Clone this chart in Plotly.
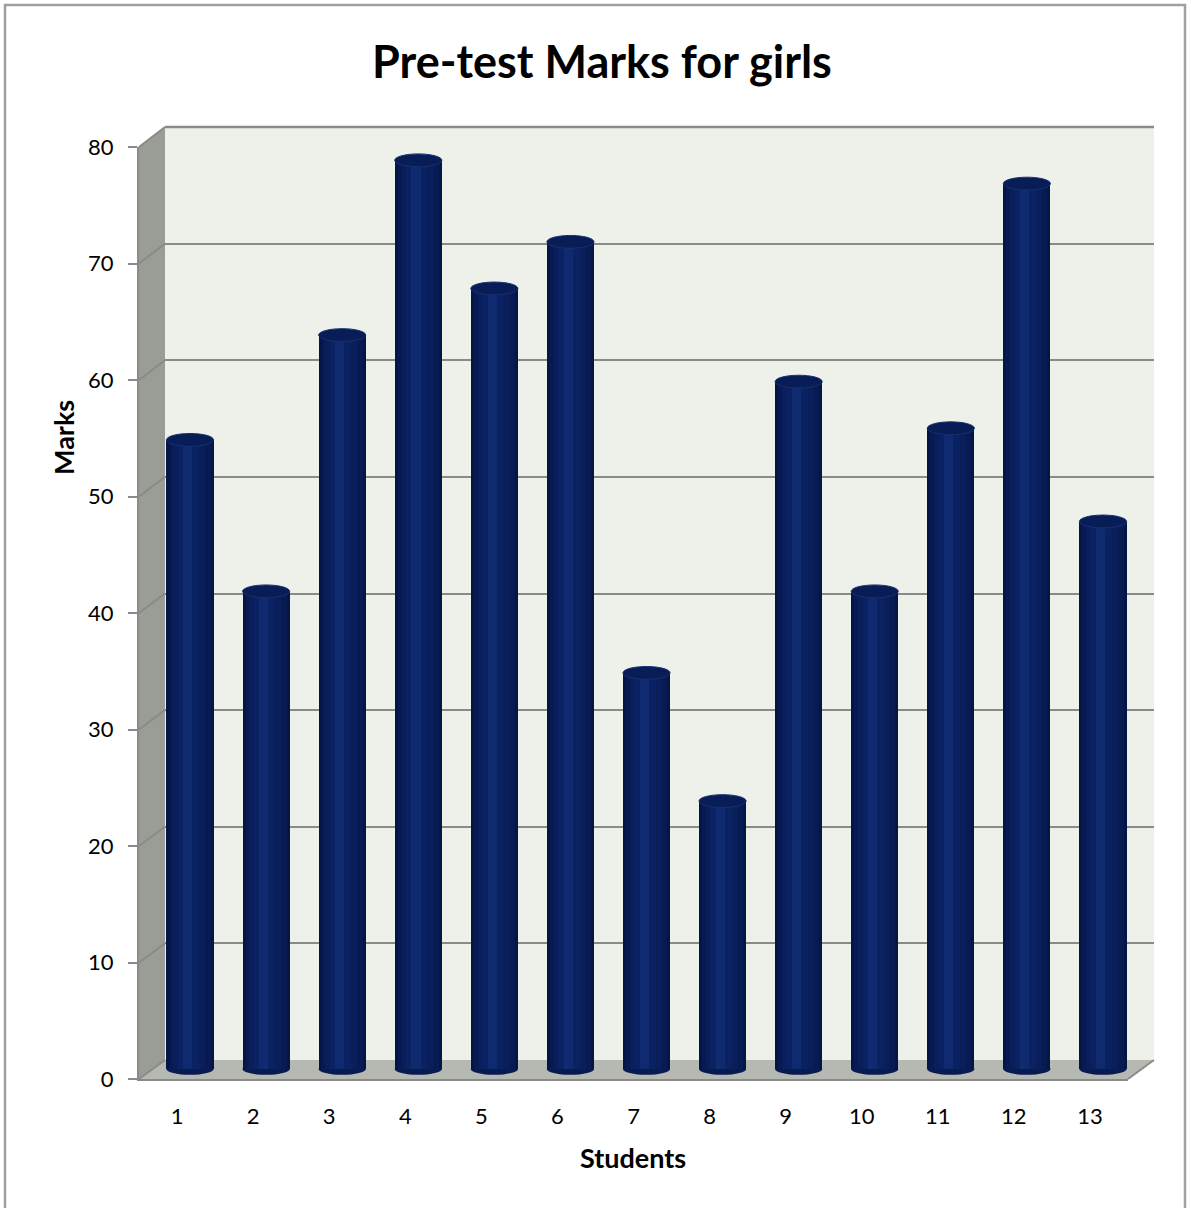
import plotly.graph_objects as go

# Pre-test marks for girls, one value per student
students = list(range(1, 14))
marks = [54, 41, 63, 78, 67, 71, 34, 23, 59, 41, 55, 76, 47]
y_ticks = [0, 10, 20, 30, 40, 50, 60, 70, 80]

W, H = 1191, 1208
FONT = "Lato"


def fx(px):
    return px / W


def fy(py):
    return 1 - py / H


# 3D box geometry (pixels): front plane, mid plane (bars), back wall
FRONT_L, FRONT_R, FRONT_B, FRONT_T = 139, 1128, 1079, 147
BACK_L, BACK_R, BACK_B, BACK_T = 165, 1154, 1060, 127
DX, DY = 13, -10  # front -> mid depth shift
UNIT = (FRONT_B - FRONT_T) / 80.0
Y_LO, Y_HI = -2, 82

fig = go.Figure()

# empty trace for the back-wall subplot (grid lines only)
fig.add_trace(go.Scatter(x=[None], y=[None], xaxis="x", yaxis="y",
                         showlegend=False, hoverinfo="skip"))

# cylinders: stacked overlay bars give a horizontal shading
layers = [(0.62, 0.0, "#051646"),
          (0.54, 0.0, "#071A52"),
          (0.42, -0.01, "#091E5B"),
          (0.28, -0.02, "#0B2262"),
          (0.12, -0.03, "#0F2A6E")]
for w, shift, col in layers:
    fig.add_trace(go.Bar(
        x=students, y=marks, xaxis="x2", yaxis="y2",
        width=w, offset=-w / 2 + shift,
        marker=dict(color=col, line=dict(width=0)),
        showlegend=False, hoverinfo="skip"))

# front plane axes carry the tick labels
fig.add_trace(go.Scatter(x=[None], y=[None], xaxis="x3", yaxis="y3",
                         showlegend=False, hoverinfo="skip"))

shapes = []
# back wall
shapes.append(dict(type="rect", xref="paper", yref="paper", layer="below",
                   x0=fx(BACK_L), x1=fx(BACK_R), y0=fy(BACK_B), y1=fy(BACK_T),
                   fillcolor="#EEF0EA", line=dict(width=0)))
# side wall
shapes.append(dict(type="path", xref="paper", yref="paper", layer="below",
                   path=f"M {fx(FRONT_L)} {fy(FRONT_T)} L {fx(BACK_L)} {fy(BACK_T)} "
                        f"L {fx(BACK_L)} {fy(BACK_B)} L {fx(FRONT_L)} {fy(FRONT_B)} Z",
                   fillcolor="#9A9C96", line=dict(width=0)))
# floor
shapes.append(dict(type="path", xref="paper", yref="paper", layer="below",
                   path=f"M {fx(FRONT_L)} {fy(FRONT_B)} L {fx(BACK_L)} {fy(BACK_B)} "
                        f"L {fx(BACK_R)} {fy(BACK_B)} L {fx(FRONT_R)} {fy(FRONT_B)} Z",
                   fillcolor="#B6B8B2", line=dict(width=0)))
# grid lines continuing across the side wall
back_unit = (BACK_B - BACK_T) / 80.0
for v in y_ticks:
    shapes.append(dict(type="line", xref="paper", yref="paper", layer="below",
                       x0=fx(FRONT_L), y0=fy(FRONT_B - v * UNIT),
                       x1=fx(BACK_L), y1=fy(BACK_B - v * back_unit),
                       line=dict(color="#8A8A8A", width=2)))
# top edge of back wall and right edge of floor
shapes.append(dict(type="line", xref="paper", yref="paper", layer="below",
                   x0=fx(BACK_L), y0=fy(BACK_T), x1=fx(BACK_R), y1=fy(BACK_T),
                   line=dict(color="#8A8A8A", width=2.5)))
shapes.append(dict(type="line", xref="paper", yref="paper", layer="below",
                   x0=fx(FRONT_R), y0=fy(FRONT_B), x1=fx(BACK_R), y1=fy(BACK_B),
                   line=dict(color="#8A8A8A", width=2)))
# outer chart border
shapes.append(dict(type="rect", xref="paper", yref="paper", layer="below",
                   x0=fx(5), x1=fx(1185), y0=fy(1230), y1=fy(5),
                   line=dict(color="#A0A0A0", width=2.5), fillcolor="rgba(0,0,0,0)"))

# cylinder bottoms and tops
for s, m in zip(students, marks):
    shapes.append(dict(type="circle", xref="x2", yref="y2", layer="below",
                       x0=s - 0.31, x1=s + 0.31, y0=-0.5, y1=0.5,
                       fillcolor="#071A52", line=dict(width=0)))
    shapes.append(dict(type="circle", xref="x2", yref="y2", layer="above",
                       x0=s - 0.31, x1=s + 0.31, y0=m - 0.55, y1=m + 0.55,
                       fillcolor="#081C56", line=dict(color="#183070", width=1)))

annotations = [
    dict(text="<b>Pre-test Marks for girls</b>", xref="paper", yref="paper",
         x=fx(602), y=fy(61), xanchor="center", yanchor="middle", showarrow=False,
         font=dict(family=FONT, size=45, color="#000000")),
    dict(text="<b>Marks</b>", xref="paper", yref="paper",
         x=fx(63), y=fy(438), xanchor="center", yanchor="middle",
         showarrow=False, textangle=-90,
         font=dict(family=FONT, size=27, color="#000000")),
    dict(text="<b>Students</b>", xref="paper", yref="paper",
         x=fx(633), y=fy(1157), xanchor="center", yanchor="middle", showarrow=False,
         font=dict(family=FONT, size=27, color="#000000")),
]

hidden = dict(showticklabels=False, showgrid=False, zeroline=False,
              showline=False, ticks="", fixedrange=True, automargin=False)

fig.update_layout(
    width=W, height=H,
    margin=dict(l=0, r=0, t=0, b=0, pad=0, autoexpand=False),
    paper_bgcolor="#FFFFFF",
    plot_bgcolor="rgba(0,0,0,0)",
    barmode="overlay",
    bargap=0,
    showlegend=False,
    font=dict(family=FONT, size=20, color="#000000"),
    # back wall grid
    xaxis=dict(domain=[fx(BACK_L), fx(BACK_R)], range=[0, 1], anchor="y", **hidden),
    yaxis=dict(domain=[fy(BACK_B), fy(BACK_T)], range=[0, 80], anchor="x",
               showgrid=True, gridcolor="#8A8A8A", gridwidth=2, dtick=10,
               zeroline=False, showline=False, showticklabels=False, ticks="",
               automargin=False),
    # bar plane (mid depth)
    xaxis2=dict(domain=[fx(FRONT_L + DX), fx(FRONT_R + DX)], range=[0.5, 13.5],
                anchor="y2", **hidden),
    yaxis2=dict(domain=[fy(FRONT_B + DY - Y_LO * UNIT), fy(FRONT_B + DY - Y_HI * UNIT)],
                range=[Y_LO, Y_HI], anchor="x2", **hidden),
    # front plane with labels
    xaxis3=dict(domain=[fx(FRONT_L), fx(FRONT_R)], range=[0.5, 13.5], anchor="y3",
                tickmode="array", tickvals=students, ticktext=[str(s) for s in students],
                showgrid=False, zeroline=False, showline=True, linecolor="#8A8A8A",
                linewidth=2, ticks="", ticklabelstandoff=17, automargin=False,
                tickfont=dict(family=FONT, size=22, color="#000000")),
    yaxis3=dict(domain=[fy(FRONT_B), fy(FRONT_T)], range=[0, 80], anchor="x3",
                tickmode="array", tickvals=y_ticks,
                showgrid=False, zeroline=False, showline=True, linecolor="#8A8A8A",
                linewidth=2, ticks="outside", ticklen=9, tickcolor="#8A8A8A",
                tickwidth=2, ticklabelstandoff=10, automargin=False,
                tickfont=dict(family=FONT, size=22, color="#000000")),
    shapes=shapes,
    annotations=annotations,
)

fig.write_html("out.html")
